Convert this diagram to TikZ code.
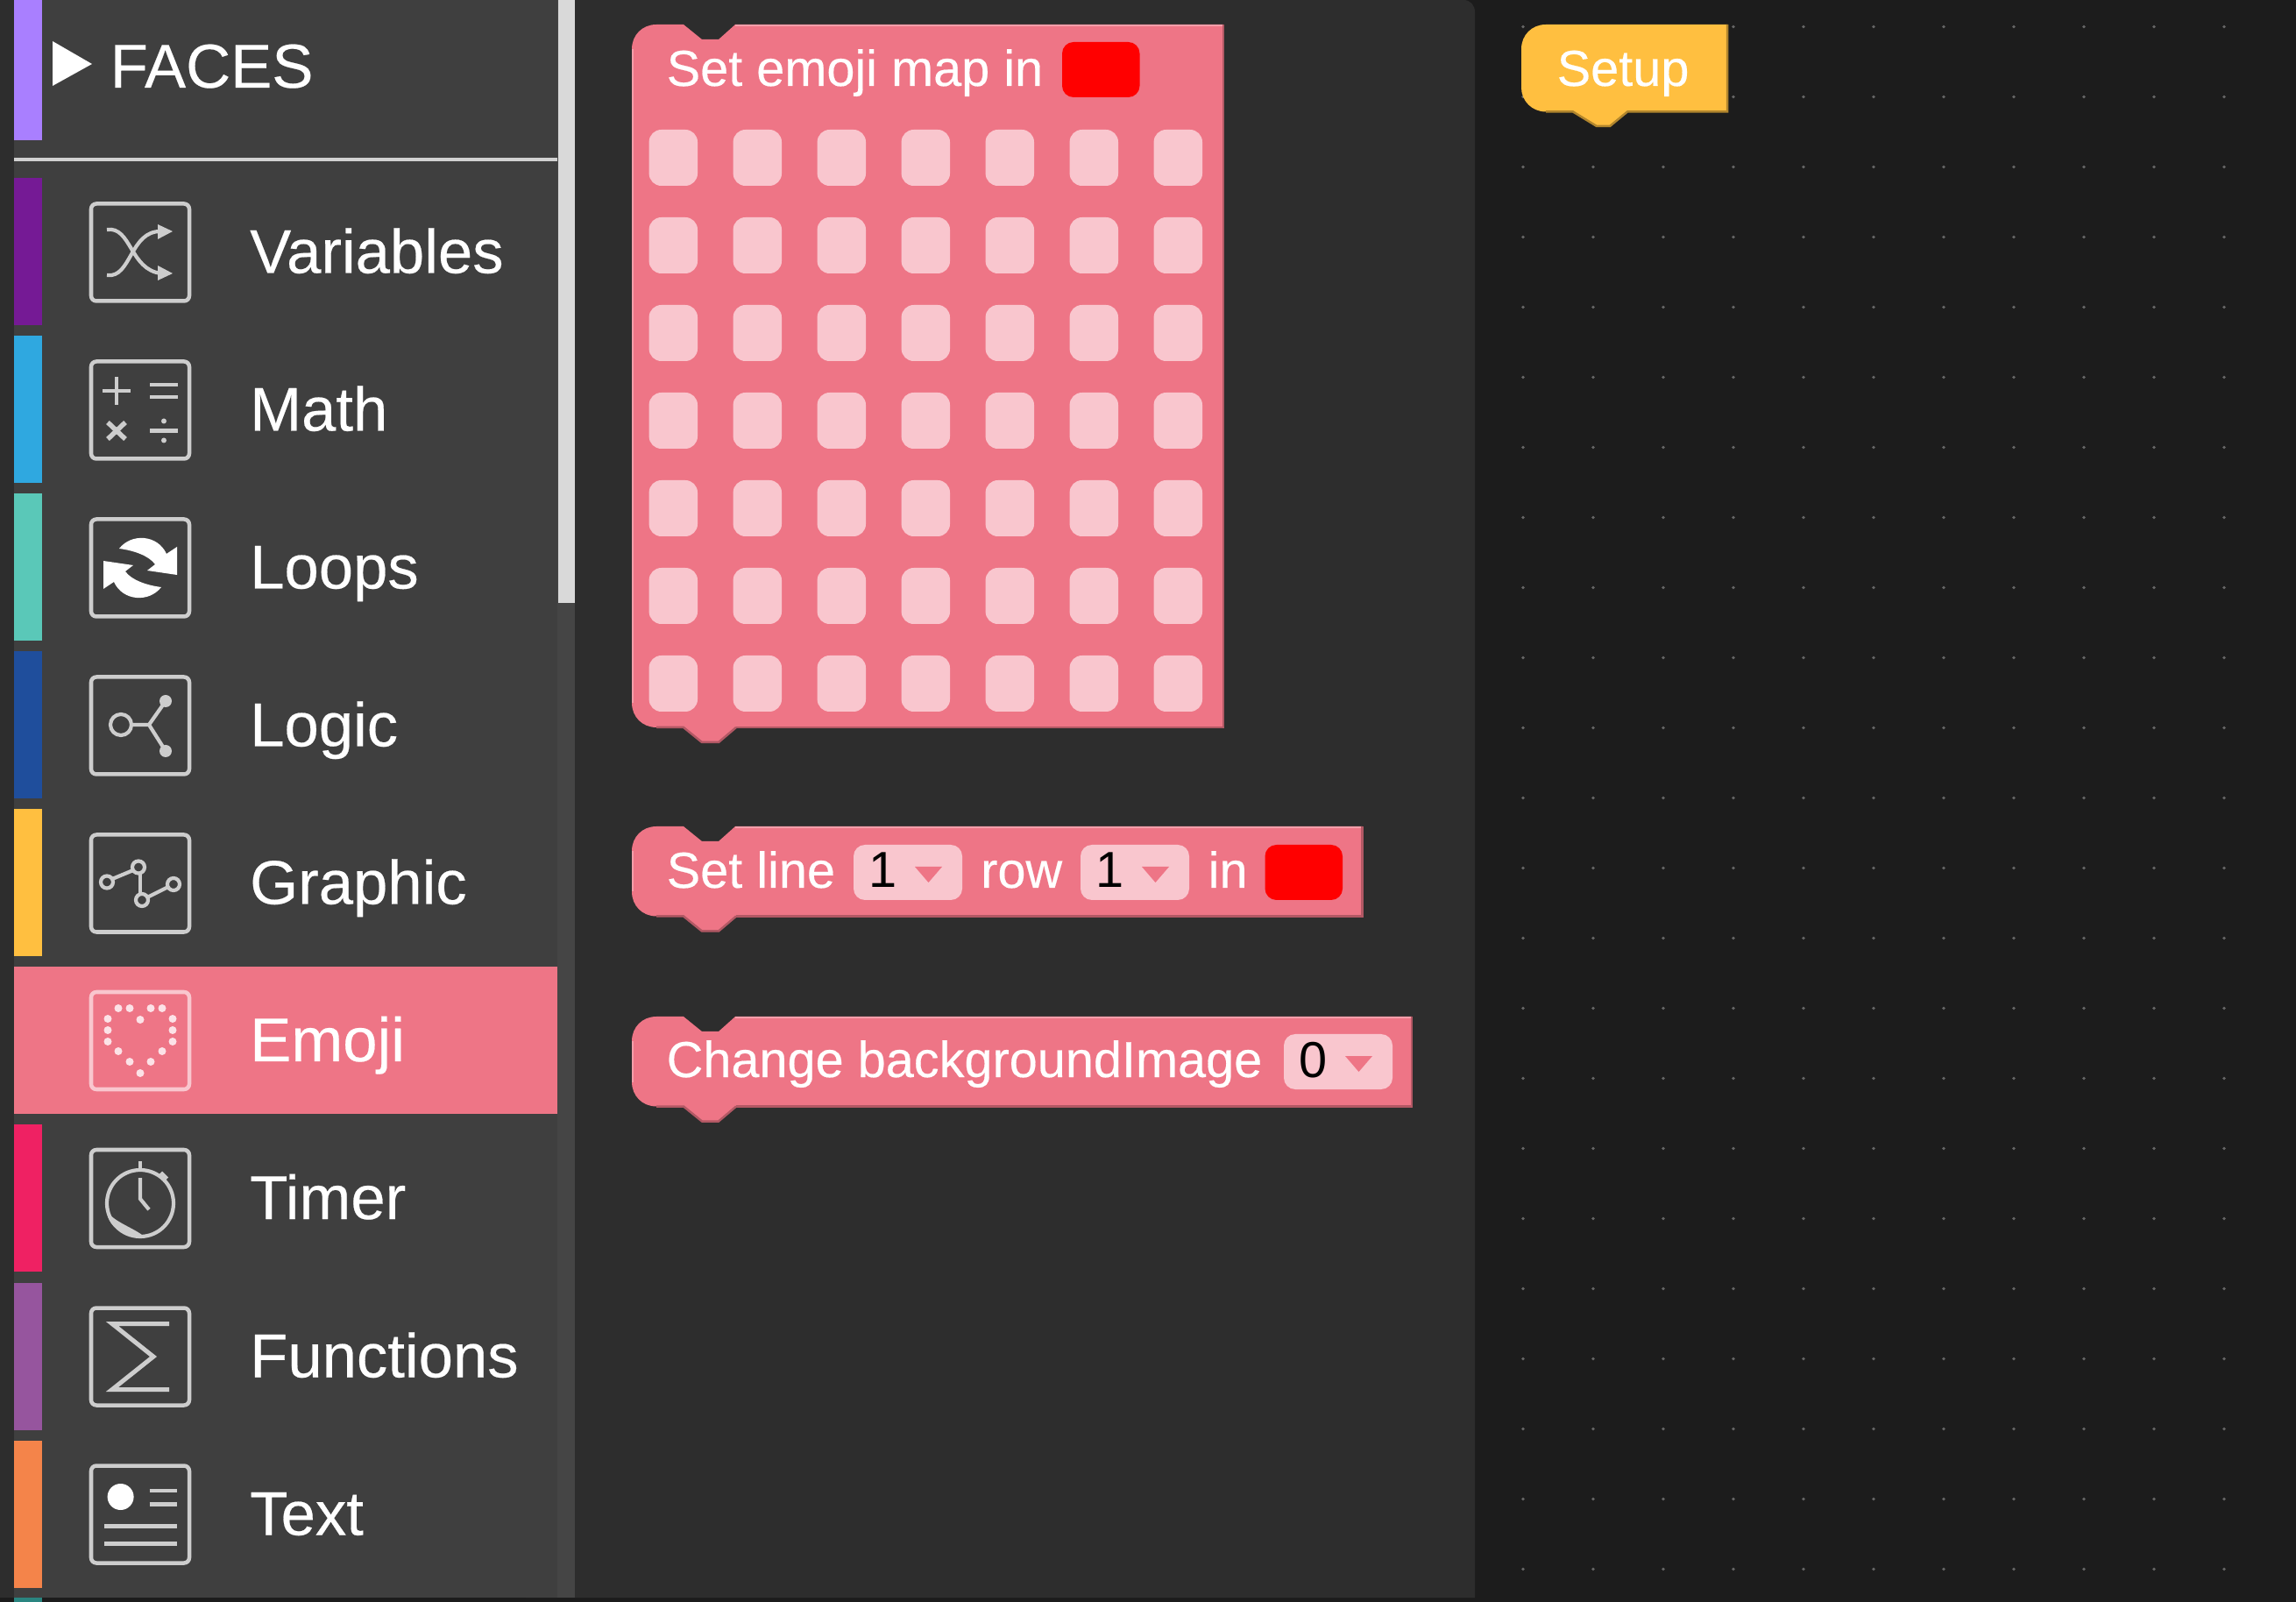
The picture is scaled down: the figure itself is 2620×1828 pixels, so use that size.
\documentclass[tikz,border=0pt]{standalone}
\usepackage{fontspec}
\setmainfont{Liberation Sans}
\newfontfamily\uifont[FakeBold=0.3]{Liberation Sans}
\definecolor{panelbg}{HTML}{2D2D2D}
\definecolor{sidebg}{HTML}{3F3F3F}
\definecolor{trackbg}{HTML}{454545}
\definecolor{workbg}{HTML}{1C1C1C}
\definecolor{blockpk}{HTML}{EE7586}
\definecolor{fieldpk}{HTML}{F9C6CE}
\definecolor{blockyl}{HTML}{FFBF40}
\definecolor{iconln}{HTML}{CDCDCD}
\definecolor{barfaces}{HTML}{A97FFF}
\definecolor{barvars}{HTML}{751A95}
\definecolor{barmath}{HTML}{2FA8E0}
\definecolor{barloops}{HTML}{5AC8B8}
\definecolor{barlogic}{HTML}{1F4E9C}
\definecolor{bartimer}{HTML}{EF2163}
\definecolor{barfuncs}{HTML}{96559E}
\definecolor{bartext}{HTML}{F4844A}
\definecolor{barnext}{HTML}{2A8580}
\tikzset{
catlabel/.style={text=white,inner sep=0pt,anchor=base west,font=\uifont\fontsize{20.1}{24}\selectfont},
blocklabel/.style={text=white,inner sep=0pt,anchor=base west,font=\uifont\fontsize{16.4}{20}\selectfont},
fieldnum/.style={text=black,inner sep=0pt,anchor=base,font=\fontsize{16.4}{20}\selectfont},
iconframe/.style={line width=0.045cm,rounded corners=0.06cm},
}
\newcommand{\catrow}[7]{
\fill[#3] (16,#2) rectangle (48,#2+168);
\node[catlabel] (#1label) at (284.5,#2+108) {#4};
\begin{scope}[shift={(160,#2+84.5)},draw=#5,fill=#6,line width=0.042cm]
\draw[iconframe] (-56,-55.5) rectangle (56,55.5);
#7
\end{scope}
}
\newcommand{\stackblock}[4]{
\fill[blockpk] (#1,#2+28) .. controls (#1,#2+12) and (#1+12,#2) .. (#1+28,#2) -- (#1+59,#2) -- (#1+80,#2+17) -- (#1+99,#2+17) -- (#1+118,#2) -- (#3,#2) -- (#3,#4) -- (#1+119,#4) -- (#1+99,#4+17) -- (#1+80,#4+17) -- (#1+59,#4) -- (#1+28,#4) .. controls (#1+12,#4) and (#1,#4-12) .. (#1,#4-28) -- cycle;
\draw[line width=0.02cm,blockpk!70!white] (#1+118,#2+1) -- (#3,#2+1);
\draw[line width=0.02cm,blockpk!70!white] (#1+1,#2+28) -- (#1+1,#4-28);
\draw[line width=0.025cm,blockpk!75!black] (#1+119,#4) -- (#3,#4) -- (#3,#2);
\draw[line width=0.025cm,blockpk!75!black] (#1+28,#4) -- (#1+59,#4) -- (#1+80,#4+17) -- (#1+99,#4+17) -- (#1+119,#4);
}
\newcommand{\swatch}[4]{
\fill[red,rounded corners=0.13cm] (#1,#2) rectangle (#3,#4);
}
\newcommand{\dropfield}[4]{
\fill[fieldpk,rounded corners=0.13cm] (#1,#2) rectangle (#1+124,#2+63);
\fill[blockpk] (#1+70,#2+25) -- (#1+101,#2+25) -- (#1+85.5,#2+43) -- cycle;
\node[fieldnum] (#3) at (#1+34,#2+49) {#4};
}

\begin{document}
\begin{tikzpicture}[x=0.01cm,y=-0.01cm]
\useasboundingbox (0,0) rectangle (2620,1828);
% panels
\fill[workbg] (0,0) rectangle (2620,1828);
\fill[panelbg] (600,0) -- (1670,0) .. controls (1678,0) and (1683,6) .. (1683,14) -- (1683,1823) -- (600,1823) -- cycle;
\fill[panelbg] (0,0) rectangle (16,1823);
\fill[sidebg] (16,0) rectangle (636,1823);
\fill[trackbg] (636,0) rectangle (656,1823);
\fill[black!15] (637,0) rectangle (656,688);
% faces header
\fill[barfaces] (16,0) rectangle (48,160);
\fill[white] (60,47) -- (105,73) -- (60,98) -- cycle;
\node[catlabel] (faceslabel) at (125,100) {FACES};
\draw[black!18,line width=0.035cm] (16,182) -- (636,182);
% categories
\catrow{variables}{203.5}{barvars}{Variables}{iconln}{iconln}{
\draw (-38,-26) .. controls (-10,-30) and (-12,20) .. (24,24);
\draw (-38,26) .. controls (-10,30) and (-12,-25) .. (24,-24);
\fill (20,-32) -- (37,-24) -- (20,-15) -- cycle;
\fill (20,15) -- (37,24) -- (20,32) -- cycle;
}
\catrow{math}{383.5}{barmath}{Math}{iconln}{iconln}{
\draw (-43,-22) -- (-11,-22);
\draw (-27,-38) -- (-27,-6);
\draw (11,-29) -- (43,-29);
\draw (11,-15) -- (43,-15);
\draw[line width=0.055cm] (-37,14) -- (-17,33);
\draw[line width=0.055cm] (-37,33) -- (-17,14);
\draw (11,23.5) -- (43,23.5);
\fill (27,12.5) circle [radius=3];
\fill (27,34.5) circle [radius=3];
}
\catrow{loops}{563.5}{barloops}{Loops}{iconln}{white}{
\fill (-24,-22) .. controls (-10,-40) and (20,-38) .. (30,-16) -- (42,-24) -- (42,8) -- (8,3) -- (17,-4) .. controls (10,-14) and (-8,-20) .. (-24,-22) -- cycle;
\begin{scope}[rotate=180]
\fill (-24,-22) .. controls (-10,-40) and (20,-38) .. (30,-16) -- (42,-24) -- (42,8) -- (8,3) -- (17,-4) .. controls (10,-14) and (-8,-20) .. (-24,-22) -- cycle;
\end{scope}
}
\catrow{logic}{743.5}{barlogic}{Logic}{iconln}{iconln}{
\draw (-22,-1) circle [radius=12];
\draw (-10,-1) -- (10,-1) -- (29,-28);
\draw (10,-1) -- (29,29);
\fill (29,-28) circle [radius=7];
\fill (29,29) circle [radius=7];
}
\catrow{graphic}{923.5}{blockyl}{Graphic}{iconln}{iconln}{
\draw (-38,-1.5) circle [radius=7];
\draw (-2,-18.5) circle [radius=7];
\draw (2,19) circle [radius=7];
\draw (38,1) circle [radius=7];
\draw (-32,-5) -- (-8,-15);
\draw (0,-12) -- (0,12);
\draw (8,16) -- (32,4);
}
% selected row
\fill[blockpk] (16,1103) rectangle (636,1271);
\catrow{emoji}{1103}{blockpk}{Emoji}{fieldpk}{fieldpk}{
\foreach \dotx/\doty in {-25/-37,-12/-37,12/-37,25/-37,0/-24,-37/-25,-37/-12,-37/1,37/-25,37/-12,37/1,-25/12,-12/24,12/24,25/12,0/37}
\fill[white!50!fieldpk] (\dotx,\doty) circle [radius=4.5];
}
\catrow{timer}{1283}{bartimer}{Timer}{iconln}{iconln}{
\draw (0,5.5) circle [radius=38];
\draw (0,-33) -- (0,-43);
\draw (0,-23.5) -- (0,0.5) -- (10,12.7);
\fill (25,-31) -- (32,-24) -- (28,-20) -- (21,-27) -- cycle;
\fill (-38,15) .. controls (-36,35) and (-15,44) .. (5,44) .. controls (-6,34) and (-28,28) .. (-38,15) -- cycle;
}
\catrow{functions}{1463.5}{barfuncs}{Functions}{iconln}{iconln}{
\draw[line width=0.05cm] (33,-37.5) -- (-32,-37.5) -- (15,0) -- (-32,37.5) -- (33,37.5);
}
\catrow{text}{1643.5}{bartext}{Text}{iconln}{white}{
\fill (-22.4,-20) circle [radius=15];
\draw (10.5,-27) -- (42,-27);
\draw (10.5,-11.5) -- (42,-11.5);
\draw (-41,13.5) -- (42,13.5);
\draw (-41,33.5) -- (42,33.5);
}
\fill[barnext] (16,1823) rectangle (48,1828);
% workspace dots
\foreach \col in {0,...,10}
\foreach \row in {0,...,22}
\fill[black!60] (1738+80*\col,30.5+80*\row) circle [radius=1.8];
% emoji map block
\stackblock{721}{28}{1396}{830}
\node[blocklabel] (maptitle) at (760,98) {Set emoji map in};
\swatch{1212}{48}{1300.5}{111}
\foreach \col in {0,...,6}
\foreach \row in {0,...,6}
\fill[fieldpk,rounded corners=0.14cm] (740.6+96*\col,148+100*\row) rectangle (796+96*\col,212+100*\row);
% set line block
\stackblock{721}{943}{1554.5}{1045.5}
\node[blocklabel] (linetitle) at (760,1013) {Set line};
\dropfield{974}{964}{lineno}{1}
\node[blocklabel] (rowtitle) at (1118.5,1013) {row};
\dropfield{1233}{964}{rowno}{1}
\node[blocklabel] (intitle) at (1378,1013) {in};
\swatch{1443.5}{964}{1532}{1027}
% background block
\stackblock{721}{1160}{1611}{1262.5}
\node[blocklabel] (bgtitle) at (760,1229) {Change backgroundImage};
\dropfield{1465}{1180}{bgno}{0}
% setup block
\fill[blockyl] (1736,56) .. controls (1736,40) and (1748,28) .. (1764,28) -- (1971,28) -- (1971,127.5) -- (1857,127.5) -- (1837,144) -- (1822,144) -- (1795,127.5) -- (1764,127.5) .. controls (1748,127.5) and (1736,115) .. (1736,100) -- cycle;
\draw[line width=0.025cm,blockyl!70!black] (1764,127.5) -- (1795,127.5) -- (1822,144) -- (1837,144) -- (1857,127.5) -- (1971,127.5) -- (1971,28);
\node[blocklabel] (setuptitle) at (1776,98) {Setup};
\end{tikzpicture}
\end{document}
